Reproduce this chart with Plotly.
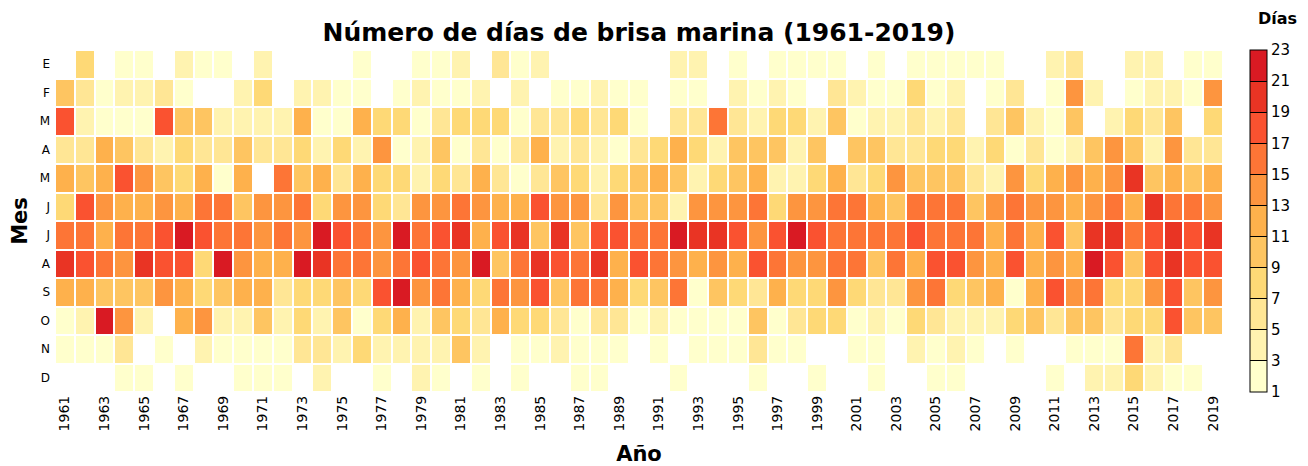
import plotly.graph_objects as go

years = list(range(1961, 2020))
month_labels = ["E", "F", "M", "A", "M", "J", "J", "A", "S", "O", "N", "D"]

# days of sea breeze per month, one list per month (None = no days)
ene = [None, 8, None, 2, 2, None, 4, 2, 2, None, 4, None, None, None, None,
       2, None, None, 2, 2, 4, None, 6, 2, 4, None, None, None, None, None,
       None, 4, 4, None, 2, None, 2, 2, 2, 2, None, 2, None, 2, 2,
       2, 2, 2, None, None, 4, 6, None, None, 4, 4, None, 2, 2]
feb = [10, 6, 2, 4, 4, 6, 2, None, None, 4, 8, None, 4, 4, 2,
       2, None, 2, 4, 2, 2, 4, None, 4, None, 2, 2, 4, 2, 2,
       None, 2, 2, None, 4, 2, 4, 2, None, 6, 4, 2, 2, 8, 2,
       4, None, 2, 6, None, 2, 14, 4, None, 2, 4, 4, 2, 14]
mar = [18, 4, 2, 2, 2, 18, 10, 10, 4, 4, 4, 4, 12, 2, 2,
       12, 8, 8, 2, 6, 8, 8, 8, 2, 6, 6, 8, 6, 8, 2,
       None, 6, 6, 16, 6, 4, 8, 8, 4, 10, 2, 4, 4, 6, 4,
       6, None, 6, 10, 4, 2, 10, None, 4, 8, 6, 10, None, 8]
abr = [6, 6, 12, 10, 6, 4, 8, 6, 6, 10, 6, 6, 8, 4, 8,
       4, 14, 2, 4, 10, 2, 6, 2, 6, 12, 4, 6, 4, 2, 6,
       8, 12, 8, 4, 10, 10, 10, 4, 10, None, 10, 10, 6, 6, 8,
       8, 4, 8, 2, 6, 2, 4, 10, 14, 10, 4, 14, 6, 6]
may = [12, 10, 12, 18, 14, 10, 8, 12, 2, 12, None, 16, 10, 12, 6,
       12, 8, 8, 4, 8, 6, 12, 6, 2, 6, 10, 8, 4, 8, 10,
       12, 10, 4, 8, 10, 12, 4, 4, 8, 12, 6, 8, 14, 10, 10,
       10, 6, 4, 14, 8, 12, 14, 12, 14, 20, 10, 12, 10, 12]
jun = [8, 18, 14, 12, 12, 14, 12, 16, 16, 10, 14, 14, 16, 8, 14,
       14, 8, 6, 14, 14, 16, 14, 12, 12, 18, 14, 14, 6, 14, 10,
       10, 4, 14, 14, 14, 16, 8, 14, 14, 16, 16, 12, 10, 16, 16,
       16, 10, 14, 16, 14, 14, 12, 14, 16, 12, 20, 16, 16, 14]
jul = [16, 16, 12, 16, 16, 18, 22, 18, 16, 16, 14, 16, 14, 22, 18,
       16, 14, 22, 16, 18, 20, 12, 18, 20, 10, 20, 10, 18, 18, 16,
       16, 22, 20, 20, 18, 14, 18, 22, 18, 16, 16, 16, 16, 18, 16,
       16, 16, 12, 16, 12, 18, 10, 20, 20, 16, 18, 20, 18, 20]
ago = [20, 18, 16, 14, 20, 18, 18, 8, 22, 14, 12, 12, 22, 20, 16,
       16, 14, 16, 18, 16, 14, 22, 10, 16, 20, 18, 16, 20, 12, 18,
       16, 14, 12, 14, 12, 18, 16, 14, 14, 16, 16, 10, 16, 12, 18,
       18, 14, 12, 18, 12, 14, 12, 22, 18, 10, 18, 20, 18, 18]
sep = [12, 12, 10, 10, 10, 14, 12, 8, 10, 12, 12, 6, 8, 8, 10,
       8, 18, 22, 14, 16, 12, 8, 16, 14, 18, 10, 16, 16, 12, 8,
       10, 16, 2, 10, 8, 6, 12, 8, 8, 14, 8, 6, 6, 14, 16,
       8, 10, 12, 2, 12, 18, 14, 16, 8, 8, 14, 18, 10, 14]
octu = [2, 4, 22, 14, 4, None, 12, 14, 4, 4, 10, 4, 8, 4, 10,
        2, 8, 12, 4, 10, 8, 6, 12, 8, 8, 6, 2, 6, 6, 2,
        4, 2, 2, 2, 2, 10, 2, 6, 8, 8, 2, 4, 2, 8, 6,
        4, 4, 4, 8, 10, 6, 10, 10, 6, 8, 8, 18, 10, 10]
nov = [2, 2, 2, 6, None, 2, None, 4, 2, 2, 2, 2, 6, 6, 4,
       8, 4, 4, 4, 4, 10, 4, None, 2, 2, 4, 2, 2, 2, None,
       2, None, 2, 2, 2, 6, 2, 2, None, None, 2, 2, None, 4, 2,
       4, 2, None, 2, None, None, 2, 2, 2, 16, 4, 6, None, None]
dic = [None, None, None, 2, 2, None, 2, None, None, 2, 2, 2, None, 4, None,
       None, 2, None, 4, 2, None, 2, None, 2, None, None, 2, 2, None, None,
       None, 2, None, None, None, 2, None, None, 2, None, None, 2, None, None, 2,
       2, None, None, None, None, 2, None, 4, 4, 8, 4, 2, 2, None]

z = [ene, feb, mar, abr, may, jun, jul, ago, sep, octu, nov, dic]

bin_colors = ["#ffffcc", "#fff3b0", "#ffe695", "#fed976", "#fec561", "#feb14c",
              "#fd953f", "#fd7536", "#fa5230", "#e93424", "#d91a23"]
n = len(bin_colors)
colorscale = []
for i, c in enumerate(bin_colors):
    colorscale.append([i / n, c])
    colorscale.append([(i + 1) / n, c])

# the page body adds an 8px offset, so the figure is laid out 8px smaller
W, H = 1300, 458
L, T, PW, PH = 47, 42, 1168, 342

fig = go.Figure(
    go.Heatmap(
        x=years,
        y=list(range(12)),
        z=z,
        zmin=1,
        zmax=23,
        colorscale=colorscale,
        xgap=2,
        ygap=2,
        hoverongaps=False,
        colorbar=dict(
            x=(1242 - L) / PW,
            xanchor="left",
            xpad=0,
            y=0.5,
            yanchor="middle",
            ypad=0,
            len=1,
            lenmode="fraction",
            thickness=17,
            outlinewidth=1,
            outlinecolor="black",
            tickvals=list(range(1, 24, 2)),
            ticks="inside",
            ticklen=17,
            tickcolor="black",
            tickfont=dict(size=15, color="black"),
        ),
    )
)

fig.update_layout(
    width=W,
    height=H,
    margin=dict(l=L, r=W - L - PW, t=T, b=H - T - PH, autoexpand=False),
    plot_bgcolor="white",
    paper_bgcolor="white",
    font=dict(family="DejaVu Sans", color="black"),
    title=dict(
        text="<b>Número de días de brisa marina (1961-2019)</b>",
        x=0.5,
        xref="paper",
        xanchor="center",
        y=1 - 24 / H,
        yref="container",
        yanchor="middle",
        font=dict(size=25, color="black"),
    ),
)

fig.add_annotation(
    text="<b>Días</b>",
    xref="paper", yref="paper",
    x=(1269 - L) / PW, y=1 + (T - 10) / PH,
    xanchor="center", yanchor="middle",
    showarrow=False,
    font=dict(size=16, color="black"),
)

fig.update_xaxes(
    tickvals=years[::2],
    tickangle=-90,
    tickfont=dict(size=14),
    title=dict(text="<b>Año</b>", font=dict(size=21), standoff=16),
    showgrid=False,
    zeroline=False,
    automargin=False,
    range=[1960.5, 2019.5],
)
fig.update_yaxes(
    tickvals=list(range(12)),
    ticktext=month_labels,
    tickfont=dict(size=12),
    title=dict(text="<b>Mes</b>", font=dict(size=21), standoff=12),
    ticklabelstandoff=4,
    autorange="reversed",
    showgrid=False,
    zeroline=False,
    automargin=False,
)

fig.write_html("out.html")
